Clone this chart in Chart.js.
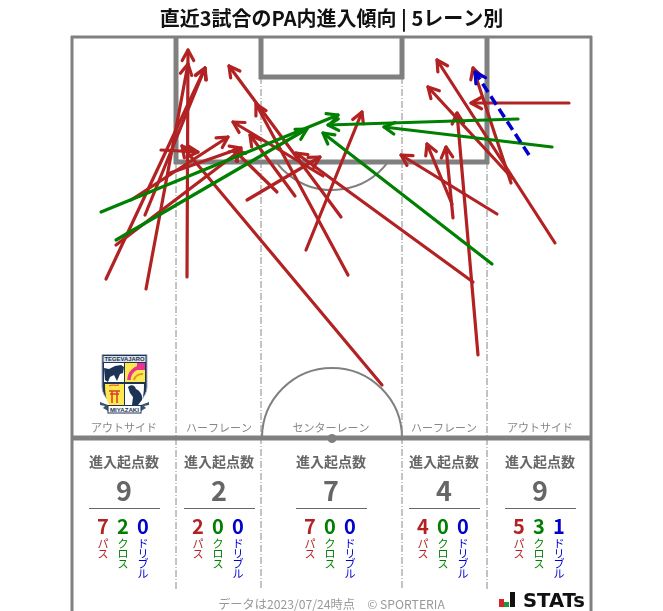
<!DOCTYPE html>
<html><head><meta charset="utf-8">
<script src="https://cdn.jsdelivr.net/npm/chart.js@4"></script>
<style>html,body{margin:0;padding:0;background:#fff;overflow:hidden}#w{position:relative;width:663px;height:611px}canvas{display:block}svg{position:absolute;left:100px;top:353px}</style>
</head><body><div id="w"><canvas id="c" width="663" height="611"></canvas>
<svg width="49" height="64" viewBox="0 0 49 64">
<path d="M2 1.500H47V34C47 45 35 53 24.500 60C14 53 2 45 2 34Z" fill="#1c3557" stroke="#a8afbc" stroke-width="1"/>
<rect x="3.500" y="3" width="42" height="6" fill="#dfe3ea"/>
<text x="24.500" y="8" font-size="5" font-weight="700" text-anchor="middle" font-family="Liberation Sans" fill="#1c3557" textLength="40" lengthAdjust="spacingAndGlyphs">TEGEVAJARO</text>
<path d="M4 10H24V29H4Z" fill="#fff"/><path d="M25 10H45V29H25Z" fill="#ffe84d"/>
<path d="M5 31H24V52H9C6 46 5 40 5 31Z" fill="#ffe84d"/><path d="M25 31H44C44 40 43 46 40 52H25Z" fill="#fff"/>
<path d="M4 15L9 16L15 13L21 12L24 14L23 20L20 21L17 28L14 22L10 24L8 29L5 27Z" fill="#1c3557"/>
<path d="M29 27A13 13 0 0 1 43 14" fill="none" stroke="#e8338f" stroke-width="3.500"/><rect x="37" y="10" width="8" height="7" fill="#e8338f"/>
<path d="M34 27A8 8 0 0 1 43 21" fill="none" stroke="#d9982b" stroke-width="2"/>
<path d="M9 38H20M10 41H19M12 38V50M17 38V50" stroke="#d9402e" stroke-width="1.600" fill="none"/>
<path d="M9 33C12 31 15 33 19 32" stroke="#d9402e" stroke-width="1" fill="none"/>
<path d="M28 34C31 31 35 32 36 36C40 38 43 42 42 47L38 52H32L33 44L30 40Z" fill="#1c3557"/>
<path d="M0 49L8 52L8 58L3 55L5 53L0 52ZM49 49L41 52L41 58L46 55L44 53L49 52Z" fill="#1c3557" opacity=".85"/>
<rect x="8" y="52.500" width="33" height="7.500" fill="#fff" stroke="#1c3557" stroke-width="1"/>
<text x="24.500" y="58.500" font-size="5" font-weight="700" text-anchor="middle" font-family="Liberation Sans" fill="#1c3557" textLength="29" lengthAdjust="spacingAndGlyphs">MIYAZAKI</text>
</svg></div>
<script>
const titleText = '直近3試合のPA内進入傾向 | 5レーン別';
// arrows: [startX, startY, endX, endY]
const passArrows = [
 [106,279,205,68],[146,289,188,64],[145,215,205,68],[116,245,241,150],[131,200,228,137],[170,173,241,148],[161,150,198,152],
 [187,277,188,50],[247,200,320,157],
 [382,385,182,146],[348,275,256,104],[341,217,229,66],[306,250,362,112],[323,176,233,122],[295,196,250,135],[277,192,234,150],
 [473,282,296,153],[478,355,457,113],[453,218,446,147],[452,204,427,144],
 [569,103,471,103],[555,243,437,60],[511,183,473,68],[497,214,401,155],[512,178,428,87]
];
const crossArrows = [[101,212,338,115],[116,240,307,129],[518,119,328,125],[552,147,384,127],[492,264,323,133]];
const dribbleArrows = [[529,155,475,72]];
// pitch lines: [x1,y1,x2,y2,width]
const pitchLines = [
 [71,37,592,37,3],[72,36,72,611,3],[591,36,591,611,3],[71,438,592,438,5],
 [176,37,176,164,5],[487,37,487,164,5],[174,162,489,162,5],
 [261,37,261,79,5],[402,37,402,79,5],[259,77,404,77,5]
];
const laneLines = [[176,162,590],[261,77,590],[402,77,590],[487,162,590]];
const laneCenters = [124,219,331,444,540];
const laneNames = ['アウトサイド','ハーフレーン','センターレーン','ハーフレーン','アウトサイド'];
const laneTotals = [9,2,7,4,9];
const lanePass = [7,2,7,4,5];
const laneCross = [2,0,0,0,3];
const laneDribble = [0,0,0,0,1];
const footerText = 'データは2023/07/24時点　© SPORTERIA';
const RED='#b22222', GREEN='#008000', BLUE='#0000cd', LINE='#808080';
const jp = '"Noto Sans CJK JP","Noto Sans",sans-serif';

const seg = a => [{x:a[0],y:a[1]},{x:a[2],y:a[3]}];
const datasets = [];
pitchLines.forEach(p=>datasets.push({data:seg(p),borderColor:LINE,borderWidth:p[4],order:50,kind:'pitch',borderCapStyle:'butt'}));
laneLines.forEach(l=>datasets.push({data:[{x:l[0],y:l[1]},{x:l[0],y:l[2]}],borderColor:'#888',borderWidth:1,borderDash:[7,2,1,2],order:60,kind:'pitch',borderCapStyle:'butt'}));
passArrows.forEach(a=>datasets.push({data:seg(a),borderColor:RED,borderWidth:3.2,order:30,kind:'arrow',head:RED,borderCapStyle:'round'}));
crossArrows.forEach(a=>datasets.push({data:seg(a),borderColor:GREEN,borderWidth:3.2,order:20,kind:'arrow',head:GREEN,borderCapStyle:'round'}));
dribbleArrows.forEach(a=>datasets.push({data:seg(a),borderColor:BLUE,borderWidth:3.5,borderDash:[10,5],order:10,kind:'arrow',head:BLUE,borderCapStyle:'butt'}));
datasets.forEach(d=>{d.type='line';d.pointRadius=0;d.fill=false;d.tension=0;d.clip=false;});

const pitchDecor = {
 id:'pitchDecor',
 beforeDatasetsDraw(ch){
  const {ctx,scales:{x,y}}=ch;
  ctx.save();ctx.strokeStyle=LINE;ctx.lineWidth=2;
  const px=v=>x.getPixelForValue(v),py=v=>y.getPixelForValue(v);
  const r=px(70)-px(0);
  ctx.beginPath();ctx.arc(px(332),py(438),r,Math.PI,2*Math.PI);ctx.stroke();
  ctx.beginPath();ctx.arc(px(332),py(120),r,37*Math.PI/180,143*Math.PI/180);ctx.stroke();
  ctx.restore();
 },
 afterDatasetDraw(ch,args){
  const ds=ch.data.datasets[args.index];
  const {ctx,scales:{x,y}}=ch;
  if(ds.kind!=='arrow'){return;}
  const [a,b]=ds.data;
  const x1=x.getPixelForValue(a.x),y1=y.getPixelForValue(a.y),x2=x.getPixelForValue(b.x),y2=y.getPixelForValue(b.y);
  const t=Math.atan2(y2-y1,x2-x1),L=12,w=0.5;
  ctx.save();ctx.strokeStyle=ds.head;ctx.lineWidth=3.2;ctx.lineCap='round';ctx.lineJoin='round';
  ctx.beginPath();
  ctx.moveTo(x2-L*Math.cos(t-w),y2-L*Math.sin(t-w));
  ctx.lineTo(x2,y2);
  ctx.lineTo(x2-L*Math.cos(t+w),y2-L*Math.sin(t+w));
  ctx.stroke();ctx.restore();
 },
 afterDraw(ch){
  const {ctx,scales:{x,y}}=ch;
  const px=v=>x.getPixelForValue(v),py=v=>y.getPixelForValue(v);
  const txt=(s,a,b,font,col,al='center')=>{ctx.font=font;ctx.fillStyle=col;ctx.textAlign=al;ctx.textBaseline='middle';ctx.fillText(s,px(a),py(b));};
  ctx.save();
  ctx.fillStyle=LINE;ctx.beginPath();ctx.arc(px(332),py(438.500),4.5,0,2*Math.PI);ctx.fill();
  laneCenters.forEach((c,i)=>{
   txt(laneNames[i],c,428,'11px '+jp,'#888');
   txt('進入起点数',c,462,'bold 14px '+jp,'#666');
   txt(String(laneTotals[i]),c,491,'bold 27px '+jp,'#666');
   ctx.strokeStyle='#666';ctx.lineWidth=1;ctx.beginPath();ctx.moveTo(px(c-35),py(508.500));ctx.lineTo(px(c+36),py(508.500));ctx.stroke();
   [[lanePass[i],RED,'パス',-21],[laneCross[i],GREEN,'クロス',-1],[laneDribble[i],BLUE,'ドリブル',19]].forEach(([n,col,lab,off])=>{
     txt(String(n),c+off,526,'bold 20px '+jp,col);
     [...lab].forEach((ch2,k)=>{
       txt(ch2,c+off,544+k*10,'11px '+jp,col);
     });
   });
  });
  txt(footerText,331.500,604,'12.2px '+jp,'#999');
  ctx.fillStyle='#d8232a';ctx.fillRect(px(499),py(599),5,py(607)-py(599));
  ctx.fillStyle='#1a9a3c';ctx.fillRect(px(504),py(602),5,py(607)-py(602));
  ctx.fillStyle='#111';ctx.fillRect(px(510),py(592),5,py(607)-py(592));
  ctx.font='bold 20px "DejaVu Sans"';ctx.fillStyle='#111';ctx.textAlign='left';ctx.textBaseline='alphabetic';
  ctx.fillText('STATs',px(523),py(607),62);
  ctx.restore();
 }
};

new Chart(document.getElementById('c'),{
 data:{datasets},
 plugins:[pitchDecor],
 options:{
  responsive:false,animation:false,devicePixelRatio:1,
  layout:{padding:0},
  plugins:{legend:{display:false},tooltip:{enabled:false},
   title:{display:true,text:titleText,color:'#111',font:{family:jp,size:20,weight:'bold',lineHeight:1.2},padding:{top:6,bottom:2}}},
  scales:{
   x:{type:'linear',display:false,min:0,max:663},
   y:{type:'linear',display:false,min:32,max:611,reverse:true}
  }
 }
});
</script></body></html>
